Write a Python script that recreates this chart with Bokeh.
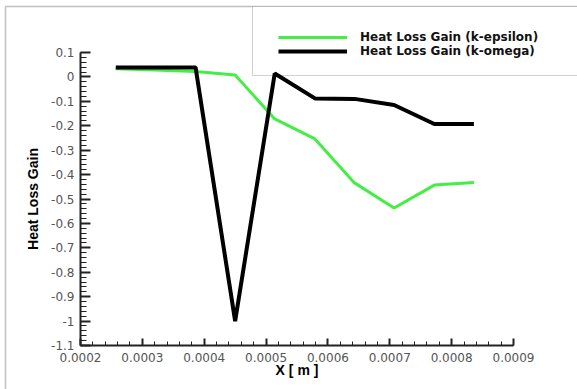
from bokeh.plotting import figure
from bokeh.models import (FixedTicker, Legend, LegendItem, BoxAnnotation, Range1d, LinearAxis)
from bokeh.embed import file_html
from bokeh.resources import INLINE

# ---- data ----
x_pos = [0.000257, 0.000321, 0.000386, 0.000450, 0.000514,
         0.000579, 0.000643, 0.000707, 0.000772, 0.000836]
k_epsilon = [0.033, 0.028, 0.022, 0.008, -0.172,
             -0.254, -0.434, -0.537, -0.443, -0.432]
k_omega = [0.039, 0.039, 0.039, -1.0, 0.014,
           -0.088, -0.09, -0.115, -0.193, -0.193]

x_ticks = [0.0002, 0.0003, 0.0004, 0.0005, 0.0006, 0.0007, 0.0008, 0.0009]
x_tick_labels = ["0.0002", "0.0003", "0.0004", "0.0005", "0.0006", "0.0007", "0.0008", "0.0009"]
y_ticks = [0.1, 0.0, -0.1, -0.2, -0.3, -0.4, -0.5, -0.6, -0.7, -0.8, -0.9, -1.0, -1.1]
y_tick_labels = ["0.1", "0", "-0.1", "-0.2", "-0.3", "-0.4", "-0.5", "-0.6",
                 "-0.7", "-0.8", "-0.9", "-1", "-1.1"]
x_minor = [0.0002 + i * 0.00002 for i in range(36)]
y_minor = [0.1 - i * 0.02 for i in range(61)]

series_names = ["Heat Loss Gain (k-epsilon)", "Heat Loss Gain (k-omega)"]

# ---- layout (pixels) ----
W, H = 577, 389
AX_L, AX_R, AX_T, AX_B = 80, 513, 52, 345   # where the axes' ends sit on the canvas
x0, x1 = x_ticks[0], x_ticks[-1]
y0, y1 = y_ticks[-1], y_ticks[0]
sx = (x1 - x0) / (AX_R - AX_L)
sy = (y1 - y0) / (AX_B - AX_T)

p = figure(width=W, height=H, output_backend="svg", toolbar_location=None,
           x_range=Range1d(x0 - AX_L * sx, x1 + (W - AX_R) * sx),
           y_range=Range1d(y0 - (H - AX_B) * sy, y1 + AX_T * sy),
           x_axis_type=None, y_axis_type=None,
           min_border_left=0, min_border_right=0, min_border_top=0, min_border_bottom=0)
p.outline_line_color = None
p.background_fill_color = "white"
p.border_fill_color = "white"
p.xgrid.visible = False
p.ygrid.visible = False

# outer frame (left and top edges visible) and legend box
p.add_layout(BoxAnnotation(left=5, right=900, top=6, bottom=900,
                           left_units="canvas", right_units="canvas",
                           top_units="canvas", bottom_units="canvas",
                           fill_color=None, line_color="#333333", line_width=1.5,
                           level="underlay"))
p.add_layout(BoxAnnotation(left=252, right=900, top=6, bottom=75,
                           left_units="canvas", right_units="canvas",
                           top_units="canvas", bottom_units="canvas",
                           fill_color="white", fill_alpha=1, line_color="#666666", line_width=1,
                           level="underlay"))

r1 = p.line(x_pos, k_epsilon, line_color="#44ee44", line_width=3)
r2 = p.line(x_pos, k_omega, line_color="#000000", line_width=4)

xaxis = LinearAxis(fixed_location=y0, bounds=(x0, x1), axis_label="X [ m ]")
yaxis = LinearAxis(fixed_location=x0, bounds=(y0, y1), axis_label="Heat Loss Gain")
p.add_layout(xaxis, "below")
p.add_layout(yaxis, "left")

for ax, ticks, labels, minor in ((xaxis, x_ticks, x_tick_labels, x_minor),
                                 (yaxis, y_ticks, y_tick_labels, y_minor)):
    ax.ticker = FixedTicker(ticks=ticks, minor_ticks=minor)
    ax.major_label_overrides = {t: l for t, l in zip(ticks, labels)}
    ax.axis_line_color = "#222222"
    ax.axis_line_width = 2
    ax.major_tick_line_color = "#222222"
    ax.minor_tick_line_color = "#222222"
    ax.major_tick_line_width = 2
    ax.minor_tick_line_width = 1
    ax.major_tick_out = 0
    ax.minor_tick_out = 0
    ax.major_label_text_font = "DejaVu Sans"
    ax.major_label_text_font_size = "12px"
    ax.major_label_text_color = "#555555"
    ax.axis_label_text_font = "Liberation Sans"
    ax.axis_label_text_font_size = "14px"
    ax.axis_label_text_font_style = "bold"
    ax.axis_label_text_color = "#000000"

xaxis.major_tick_in = 7
xaxis.minor_tick_in = 4
yaxis.major_tick_in = 10
yaxis.minor_tick_in = 6
xaxis.major_label_standoff = 7
yaxis.major_label_standoff = 6
xaxis.axis_label_standoff = -3
yaxis.axis_label_standoff = 7

legend = Legend(items=[LegendItem(label=series_names[0], renderers=[r1]),
                       LegendItem(label=series_names[1], renderers=[r2])],
                location=(278, H - 58), padding=0, margin=0, spacing=0,
                glyph_width=69, glyph_height=14, label_height=14, label_standoff=13,
                label_text_font="DejaVu Sans", label_text_font_size="12px",
                label_text_font_style="bold", label_text_color="#111111",
                border_line_color=None, background_fill_alpha=0)
p.add_layout(legend, "center")

open("out.html", "w").write(file_html(p, INLINE))
